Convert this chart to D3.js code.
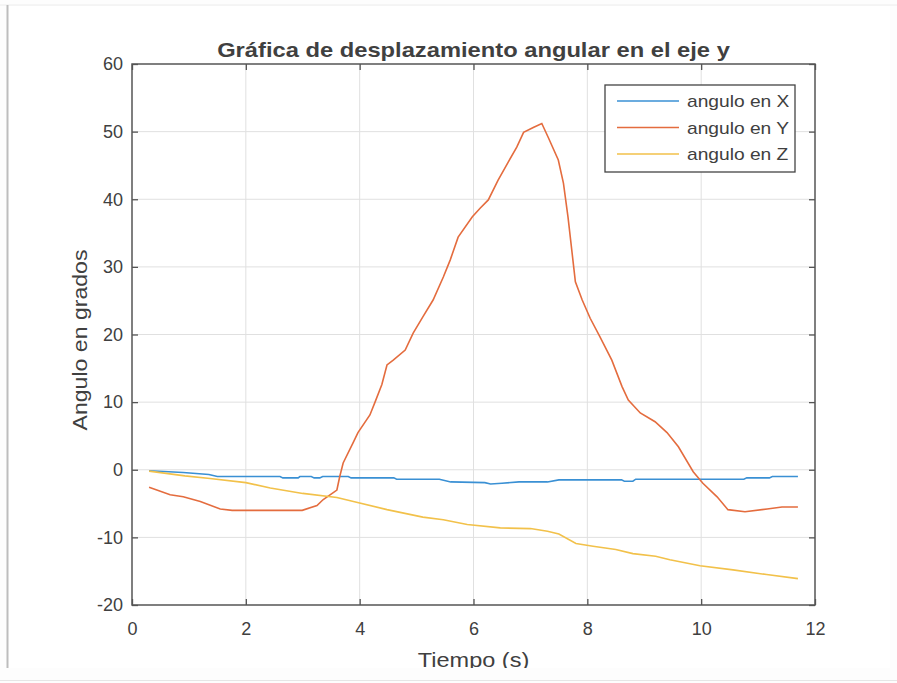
<!DOCTYPE html>
<meta charset="utf-8">
<script src="https://cdn.jsdelivr.net/npm/d3@7"></script>
<style>
body { margin: 0; background: #fff; }
text { font-family: "Liberation Sans", Arial, sans-serif; fill: #404040; }
.grid line { stroke: #e0e0e0; stroke-width: 1; }
</style>
<body>
<script>

// time samples and angles
var tX = [0.3, 0.9, 1.35, 1.5, 2.6, 2.65, 2.92, 2.95, 3.15, 3.2, 3.3, 3.35, 3.8, 3.85, 4.6, 4.65, 5.4, 5.6, 6.2, 6.3, 6.5, 6.8, 7.3, 7.5, 8.6, 8.65, 8.8, 8.85, 10.75, 10.8, 11.2, 11.25, 11.7];
var angX = [-0.15, -0.4, -0.7, -1.0, -1.0, -1.2, -1.2, -1.0, -1.0, -1.2, -1.2, -1.0, -1.0, -1.2, -1.2, -1.4, -1.4, -1.8, -1.9, -2.1, -2.0, -1.8, -1.8, -1.5, -1.5, -1.7, -1.7, -1.4, -1.4, -1.2, -1.2, -1.0, -1.0];

var tY = [0.3, 0.67, 0.9, 1.2, 1.55, 1.76, 2.99, 3.25, 3.36, 3.6, 3.65, 3.71, 3.89, 3.97, 4.18, 4.27, 4.39, 4.48, 4.59, 4.8, 4.94, 5.11, 5.29, 5.47, 5.59, 5.73, 5.98, 6.12, 6.26, 6.43, 6.61, 6.76, 6.88, 7.05, 7.2, 7.31, 7.49, 7.58, 7.66, 7.79, 7.91, 8.05, 8.22, 8.43, 8.61, 8.72, 8.93, 9.19, 9.4, 9.6, 9.86, 10.03, 10.28, 10.47, 10.77, 11.16, 11.42, 11.7];
var angY = [-2.6, -3.7, -4.0, -4.7, -5.8, -6.0, -6.0, -5.3, -4.4, -3.0, -1.0, 1.0, 4.1, 5.5, 8.1, 10, 12.6, 15.5, 16.2, 17.7, 20.2, 22.6, 25.1, 28.5, 31, 34.4, 37.4, 38.7, 39.9, 42.8, 45.5, 47.7, 49.9, 50.6, 51.2, 49.2, 45.8, 42.4, 37.4, 27.8, 25.1, 22.4, 19.7, 16.2, 12.3, 10.3, 8.4, 7.1, 5.5, 3.4, -0.3, -2.0, -4.0, -5.9, -6.2, -5.8, -5.5, -5.5];

var tZ = [0.3, 0.93, 1.37, 2.0, 2.43, 3.0, 3.6, 3.89, 4.48, 5.11, 5.47, 5.89, 6.47, 7.0, 7.3, 7.5, 7.8, 8.1, 8.5, 8.8, 9.2, 9.45, 9.98, 10.56, 11.15, 11.7];
var angZ = [-0.2, -0.9, -1.3, -1.9, -2.7, -3.5, -4.1, -4.7, -5.9, -7.0, -7.4, -8.1, -8.6, -8.7, -9.1, -9.5, -10.9, -11.3, -11.8, -12.4, -12.8, -13.3, -14.2, -14.8, -15.5, -16.1];

var seriesNames = ["angulo en X", "angulo en Y", "angulo en Z"];
var seriesColors = ["#3a90d4", "#e46c3e", "#f2c14a"];
var xTicks = [0, 2, 4, 6, 8, 10, 12];
var yTicks = [-20, -10, 0, 10, 20, 30, 40, 50, 60];

var width = 897, height = 683;

var svg = d3.select("body").append("svg")
    .attr("width", width)
    .attr("height", height);

// screenshot frame
svg.append("rect").attr("x", 0).attr("y", 0).attr("width", width).attr("height", height).attr("fill", "#fdfdfd");
svg.append("rect").attr("x", 8).attr("y", 6).attr("width", 882).attr("height", 662).attr("fill", "#fff");
svg.append("line").attr("x1", 0).attr("x2", 897).attr("y1", 5).attr("y2", 5).attr("stroke", "#ececec");
svg.append("line").attr("x1", 7.5).attr("x2", 7.5).attr("y1", 5).attr("y2", 668).attr("stroke", "#bdbdbd").attr("stroke-width", 2);
svg.append("line").attr("x1", 0).attr("x2", 897).attr("y1", 680.5).attr("y2", 680.5).attr("stroke", "#e6e6e6");

svg.append("clipPath").attr("id", "frame")
  .append("rect").attr("x", 8).attr("y", 6).attr("width", 882).attr("height", 662);

var root = svg.append("g").attr("clip-path", "url(#frame)");

var pLeft = 132, pRight = 815, pTop = 64, pBottom = 605;

var xscale = d3.scaleLinear().domain([0, 12]).range([pLeft, pRight]);
var yscale = d3.scaleLinear().domain([-20, 60]).range([pBottom, pTop]);

// grid
var grid = root.append("g").attr("class", "grid");
grid.selectAll(".gx").data(xTicks.slice(1, -1)).enter().append("line")
  .attr("x1", d => xscale(d)).attr("x2", d => xscale(d))
  .attr("y1", pTop).attr("y2", pBottom);
grid.selectAll(".gy").data(yTicks.slice(1, -1)).enter().append("line")
  .attr("x1", pLeft).attr("x2", pRight)
  .attr("y1", d => yscale(d)).attr("y2", d => yscale(d));

// lines
var line = d3.line()
  .x(d => xscale(d[0]))
  .y(d => yscale(d[1]));

var series = [d3.zip(tX, angX), d3.zip(tY, angY), d3.zip(tZ, angZ)];
series.forEach(function(s, i) {
  root.append("path")
    .datum(s)
    .attr("fill", "none")
    .attr("stroke", seriesColors[i])
    .attr("stroke-width", 1.6)
    .attr("d", line);
});

// axes (box with inward ticks on all four sides)
function styleAxis(g) {
  g.select(".domain").remove();
  g.selectAll(".tick line").attr("stroke", "#555").attr("stroke-width", 1.3);
  g.selectAll(".tick text").style("font-size", "18px").attr("fill", "#4a4a4a").style("font-family", "Liberation Sans, Arial, sans-serif");
}
var plain = d => String(d);

root.append("g").attr("transform", "translate(0," + pBottom + ")")
  .call(d3.axisBottom(xscale).tickValues(xTicks).tickSizeInner(-6).tickPadding(17).tickFormat(plain))
  .call(styleAxis);
root.append("g").attr("transform", "translate(0," + pTop + ")")
  .call(d3.axisTop(xscale).tickValues(xTicks).tickSizeInner(-6).tickFormat(""))
  .call(styleAxis);
root.append("g").attr("transform", "translate(" + pLeft + ",0)")
  .call(d3.axisLeft(yscale).tickValues(yTicks).tickSizeInner(-6).tickPadding(9).tickFormat(plain))
  .call(styleAxis);
root.append("g").attr("transform", "translate(" + pRight + ",0)")
  .call(d3.axisRight(yscale).tickValues(yTicks).tickSizeInner(-6).tickFormat(""))
  .call(styleAxis);

root.append("rect")
  .attr("x", pLeft).attr("y", pTop)
  .attr("width", pRight - pLeft).attr("height", pBottom - pTop)
  .attr("fill", "none").attr("stroke", "#555").attr("stroke-width", 1.5);

// title and labels (the reference glyphs are a bit wide, hence the x stretch)
var cx = (pLeft + pRight) / 2;
root.append("text")
  .attr("transform", "translate(" + cx + ",57) scale(1.13,1)")
  .attr("text-anchor", "middle")
  .style("font-size", "21px").style("font-weight", "bold")
  .attr("fill", "#262626")
  .text("Gráfica de desplazamiento angular en el eje y");

root.append("text")
  .attr("transform", "translate(" + cx + ",667) scale(1.12,1)")
  .attr("text-anchor", "middle")
  .style("font-size", "21px")
  .text("Tiempo (s)");

root.append("text")
  .attr("transform", "translate(87,340) rotate(-90) scale(1.1,1)")
  .attr("text-anchor", "middle")
  .style("font-size", "21px")
  .text("Angulo en grados");

// legend
var legend = root.append("g").attr("transform", "translate(605,85)");
legend.append("rect")
  .attr("width", 190).attr("height", 87)
  .attr("fill", "#fff").attr("stroke", "#444").attr("stroke-width", 1.3);
seriesNames.forEach(function(name, i) {
  var y = 16 + i * 26.5;
  legend.append("line")
    .attr("x1", 12).attr("x2", 74).attr("y1", y).attr("y2", y)
    .attr("stroke", seriesColors[i]).attr("stroke-width", 1.6);
  legend.append("text")
    .attr("transform", "translate(82," + (y + 6) + ") scale(1.2,1)")
    .style("font-size", "16px")
    .text(name);
});

</script>
</body>
</html>
